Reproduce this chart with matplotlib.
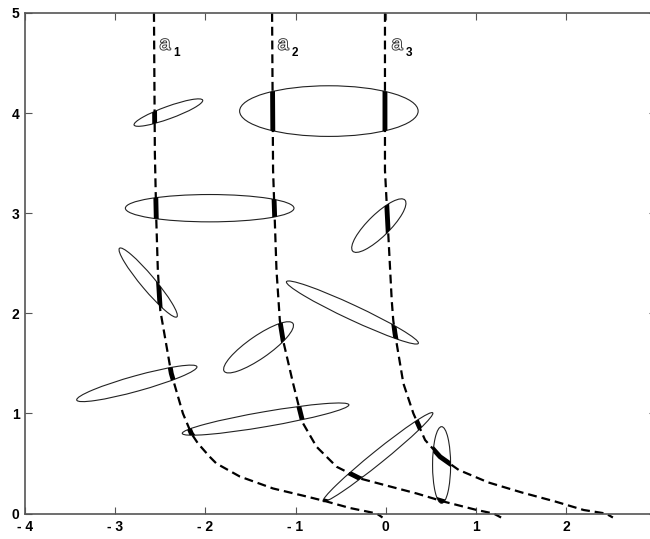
import matplotlib
matplotlib.use("Agg")
import matplotlib.pyplot as plt
from matplotlib.patches import Ellipse
import matplotlib.patheffects as pe

plt.rcParams["font.family"] = ["Liberation Sans", "DejaVu Sans"]

# curves a1, a2, a3 (x, y)
a1_x = [-2.57, -2.56, -2.544, -2.527, -2.50, -2.378, -2.249, -2.156, -2.082,
        -1.952, -1.878, -1.619, -1.249, -0.878, -0.656, -0.397, -0.10, -0.035]
a1_y = [5.0, 3.6, 2.93, 2.43, 2.03, 1.40, 1.00, 0.80, 0.70,
        0.567, 0.50, 0.37, 0.25, 0.17, 0.12, 0.055, 0.0, -0.04]

a2_x = [-1.26, -1.249, -1.211, -1.174, -1.138, -1.027, -0.916, -0.767, -0.544,
        -0.286, 0.048, 0.344, 0.64, 1.01, 1.196, 1.28]
a2_y = [5.0, 3.43, 2.43, 1.93, 1.73, 1.30, 0.90, 0.667, 0.467,
        0.35, 0.27, 0.20, 0.12, 0.035, 0.0, -0.04]

a3_x = [-0.008, -0.008, 0.067, 0.084, 0.103, 0.196, 0.307, 0.437, 0.603,
        0.81, 1.14, 1.51, 1.88, 2.196, 2.44, 2.52]
a3_y = [5.0, 3.43, 2.13, 1.93, 1.80, 1.30, 1.00, 0.734, 0.567,
        0.435, 0.31, 0.21, 0.12, 0.035, 0.0, -0.04]

curve_names = ["1", "2", "3"]
label_x = [-2.508, -1.197, 0.067]

# ellipses: centre, width, height, angle (data units / degrees)
ell_cx = [-2.41, -0.63, -1.952, -2.634, -2.76, -1.41, -0.369, -0.076, -1.332, -0.086, 0.62]
ell_cy = [4.005, 4.02, 3.05, 2.307, 1.30, 1.66, 2.008, 2.876, 0.943, 0.563, 0.485]
ell_w = [0.80, 1.98, 1.87, 0.935, 1.374, 0.90, 1.587, 0.772, 1.87, 1.504, 0.20]
ell_h = [0.125, 0.506, 0.273, 0.15, 0.155, 0.23, 0.15, 0.23, 0.15, 0.13, 0.765]
ell_ang = [18, 0, 0, -47, 14, 31.7, -22.8, 41, 8.8, 36, 0]

xticks = [-4, -3, -2, -1, 0, 1, 2, 3]
xtick_labels = ["- 4", "- 3", "- 2", "- 1", "0", "1", "2", "3"]
yticks = [0, 1, 2, 3, 4, 5]

fig = plt.figure(figsize=(6.5, 5.39), dpi=100)
ax = fig.add_axes([0.0385, 0.0473, 0.971, 0.9286])

curves = [(a1_x, a1_y), (a2_x, a2_y), (a3_x, a3_y)]
for cx, cy in curves:
    ax.plot(cx, cy, color="black", lw=1.6, dashes=(4, 2.2), clip_on=False)

for i in range(len(ell_cx)):
    e = Ellipse((ell_cx[i], ell_cy[i]), ell_w[i], ell_h[i], angle=ell_ang[i],
                fill=False, edgecolor="#222222", lw=0.8)
    ax.add_patch(e)
    # thick part of each curve inside the ellipse
    for cx, cy in curves:
        ln, = ax.plot(cx, cy, color="black", lw=3.5, solid_capstyle="butt")
        ln.set_clip_path(e)

for name, lx in zip(curve_names, label_x):
    ax.text(lx, 4.68, "a", fontsize=14, color="white", va="center", ha="left",
            path_effects=[pe.withStroke(linewidth=1.3, foreground="#333333")])
    ax.text(lx + 0.155, 4.60, name, fontsize=8.5, fontweight="bold",
            va="center", ha="left")

ax.set_xlim(-4, 3)
ax.set_ylim(0, 5)
ax.set_xticks(xticks)
ax.set_xticklabels(xtick_labels)
ax.set_yticks(yticks)
ax.tick_params(direction="in", length=5, width=0.8, color="#555555",
               labelsize=10, top=True, right=True)
ax.tick_params(axis="x", pad=5)
ax.tick_params(axis="y", pad=4)
for lab in ax.get_xticklabels() + ax.get_yticklabels():
    lab.set_fontweight("bold")
for sp in ax.spines.values():
    sp.set_color("#555555")
    sp.set_linewidth(1.2)

fig.savefig("out.png", dpi=100)
